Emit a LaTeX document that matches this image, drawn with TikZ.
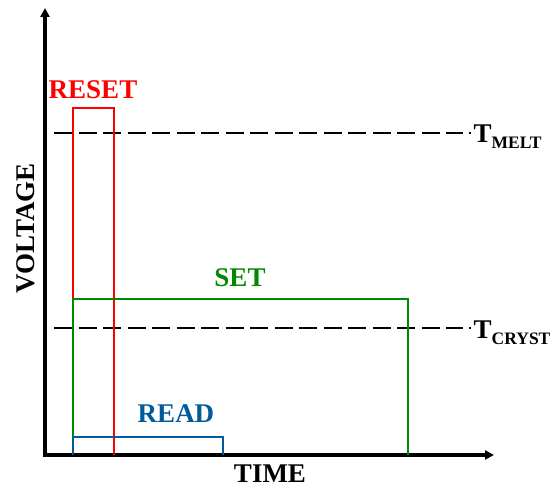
\documentclass[tikz,border=0pt]{standalone}
\usepackage{fontspec}
\setmainfont{Liberation Serif}
\usetikzlibrary{arrows.meta}
\definecolor{resetred}{RGB}{255,0,0}
\definecolor{setgreen}{RGB}{0,136,0}
\definecolor{readblue}{RGB}{0,90,156}
\tikzset{
  axis/.style={line width=3.2pt,-{Triangle[length=9pt,width=9pt]}},
  pulse/.style={line width=2.8pt},
  thresh/.style={line width=2.2pt,dash pattern=on 18pt off 6.5pt},
  lbl/.style={font=\fontsize{27}{27}\selectfont\bfseries,inner sep=0pt},
}
\begin{document}
\begin{tikzpicture}[x=1pt,y=-1pt]
\useasboundingbox (0,0) rectangle (554,489);
% axes
\coordinate (O) at (45,455);
\coordinate (ytop) at (45,8);
\coordinate (xend) at (494,455);
\draw[axis] ([yshift=-1.6pt]O) -- (ytop);
\draw[axis] ([xshift=-1.6pt]O) -- (xend);
% thresholds
\coordinate (m1) at (54,133);
\coordinate (m2) at (463,133);
\coordinate (c1) at (54,328);
\coordinate (c2) at (463,328);
\draw[thresh] (m1) -- (m2);
\draw[thresh] (c1) -- (c2);
\draw[line width=2pt] (468.5,133) -- (471,133);
\draw[line width=2pt] (468.5,328) -- (471,328);
% pulses
\draw[pulse,resetred] (73,455) -- (73,108) -- (114,108) -- (114,455);
\draw[pulse,setgreen] (73,455) -- (73,299) -- (408,299) -- (408,455);
\draw[pulse,readblue] (73,455) -- (73,437) -- (223,437) -- (223,455);
% labels
\node[lbl,text=resetred] (reset) at (93,89.5) {RESET};
\node[lbl,text=setgreen] (set) at (240,278) {SET};
\node[lbl,text=readblue] (read) at (176,414) {READ};
\node[lbl] (time) at (270,473.5) {TIME};
\node[lbl,rotate=90] (volt) at (26,228) {VOLTAGE};
\node[lbl,anchor=base west] (tmelt) at (473.5,143) {T\raisebox{-6pt}{\fontsize{17.5}{17.5}\selectfont MELT}};
\node[lbl,anchor=base west] (tcryst) at (473.5,338) {T\raisebox{-6pt}{\fontsize{17.5}{17.5}\selectfont CRYST}};
\end{tikzpicture}
\end{document}
